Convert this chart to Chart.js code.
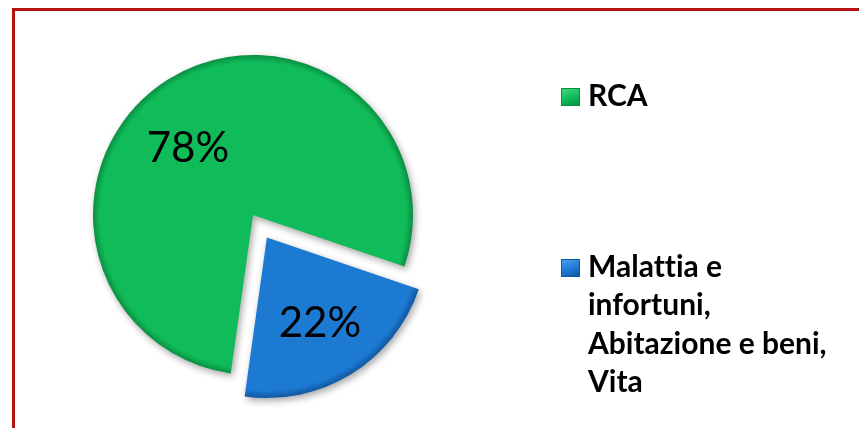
<!DOCTYPE html>
<html>
<head>
<meta charset="utf-8">
<script src="https://cdn.jsdelivr.net/npm/chart.js@4/dist/chart.umd.min.js"></script>
<style>
  html, body { margin: 0; padding: 0; background: #ffffff; }
  body { width: 859px; height: 428px; position: relative; overflow: hidden; font-family: Lato, "Open Sans", sans-serif; }
  #frame { position: absolute; left: 12px; top: 8px; width: 900px; height: 500px; border: 3px solid #b3120e; box-sizing: border-box; }
  #wrap { position: absolute; left: 0; top: 0; width: 506px; height: 430px; }
  #legend { position: absolute; left: 0; top: 0; width: 859px; height: 428px; pointer-events: none; }
  .item { position: absolute; left: 561px; display: flex; align-items: flex-start; }
  .box { width: 19px; height: 18px; margin-top: 3px; margin-right: 8px; flex: none; box-sizing: border-box; }
  .txt { font-weight: 700; font-size: 30px; line-height: 38.5px; color: #000; width: 248px; margin-top: -10.5px; font-variant-ligatures: none; font-feature-settings: "liga" 0, "clig" 0; }
</style>
</head>
<body>
<div id="frame"></div>
<div id="wrap"><canvas id="c"></canvas></div>
<div id="legend"></div>
<script>
const categories = ['RCA', 'Malattia e infortuni, Abitazione e beni, Vita'];
const shares = [78, 22];
const percentLabels = ['78%', '22%'];
const sliceColors = ['#10bb59', '#1c7ad3'];
const sliceDark = ['#0a8f42', '#1158a3'];
const sliceLight = ['#3fd67d', '#4aa0ec'];

function rimGradient(context) {
  const chart = context.chart;
  const i = context.dataIndex;
  const area = chart.chartArea;
  if (!area) return sliceColors[i];
  const cx = (area.left + area.right) / 2;
  const cy = (area.top + area.bottom) / 2;
  const r = 160;
  const g = chart.ctx.createRadialGradient(cx, cy, 0, cx, cy, r);
  g.addColorStop(0, sliceColors[i]);
  g.addColorStop(0.955, sliceColors[i]);
  g.addColorStop(1, sliceDark[i]);
  return g;
}

const shadowPlugin = {
  id: 'shadow',
  beforeDatasetsDraw(chart) {
    const ctx = chart.ctx;
    ctx.save();
    ctx.shadowColor = 'rgba(0,0,0,0.35)';
    ctx.shadowBlur = 7;
    ctx.shadowOffsetX = 2;
    ctx.shadowOffsetY = 3;
  },
  afterDatasetsDraw(chart) {
    chart.ctx.restore();
  }
};

const pctPlugin = {
  id: 'pct',
  afterDatasetsDraw(chart, args, opts) {
    const ctx = chart.ctx;
    const meta = chart.getDatasetMeta(0);
    meta.data.forEach((arc, i) => {
      const p = arc.getProps(['x', 'y', 'startAngle', 'endAngle', 'outerRadius', 'circumference'], true);
      const off = (arc.options.offset || 0) / 4;
      const half = (p.startAngle + p.endAngle) / 2;
      const fix = 1 - Math.sin(Math.min(Math.PI, p.circumference || 0));
      const shift = off * (1 + fix);
      const ox = p.x + Math.cos(half) * shift;
      const oy = p.y + Math.sin(half) * shift;
      const a = p.startAngle + (p.endAngle - p.startAngle) * opts.angleFrac[i];
      const rr = p.outerRadius * opts.radiusFrac[i];
      ctx.save();
      ctx.font = '400 42px Lato, "Open Sans", sans-serif';
      ctx.fillStyle = '#000';
      ctx.textAlign = 'center';
      ctx.textBaseline = 'middle';
      ctx.fillText(percentLabels[i], ox + Math.cos(a) * rr, oy + Math.sin(a) * rr);
      ctx.restore();
    });
  }
};

const chart = new Chart(document.getElementById('c'), {
  type: 'pie',
  data: {
    labels: categories,
    datasets: [{
      data: shares,
      backgroundColor: rimGradient,
      borderWidth: 0,
      offset: [0, 106],
      hoverOffset: 0
    }]
  },
  options: {
    responsive: true,
    maintainAspectRatio: false,
    animation: false,
    rotation: 188,
    radius: 160,
    layout: { padding: 0 },
    events: [],
    plugins: {
      legend: { display: false },
      tooltip: { enabled: false },
      pct: { angleFrac: [0.454, 0.5], radiusFrac: [0.58, 0.63] }
    }
  },
  plugins: [shadowPlugin, pctPlugin]
});

// HTML legend built from the chart's data
const legendTops = [85, 256];
const legend = document.getElementById('legend');
chart.data.labels.forEach((lab, i) => {
  const item = document.createElement('div');
  item.className = 'item';
  item.style.top = legendTops[i] + 'px';
  const box = document.createElement('div');
  box.className = 'box';
  box.style.background = 'linear-gradient(160deg, ' + sliceLight[i] + ' 0%, ' + sliceColors[i] + ' 55%, ' + sliceDark[i] + ' 100%)';
  box.style.border = '1px solid ' + sliceDark[i];
  const txt = document.createElement('div');
  txt.className = 'txt';
  txt.textContent = lab;
  item.appendChild(box);
  item.appendChild(txt);
  legend.appendChild(item);
});
</script>
</body>
</html>
